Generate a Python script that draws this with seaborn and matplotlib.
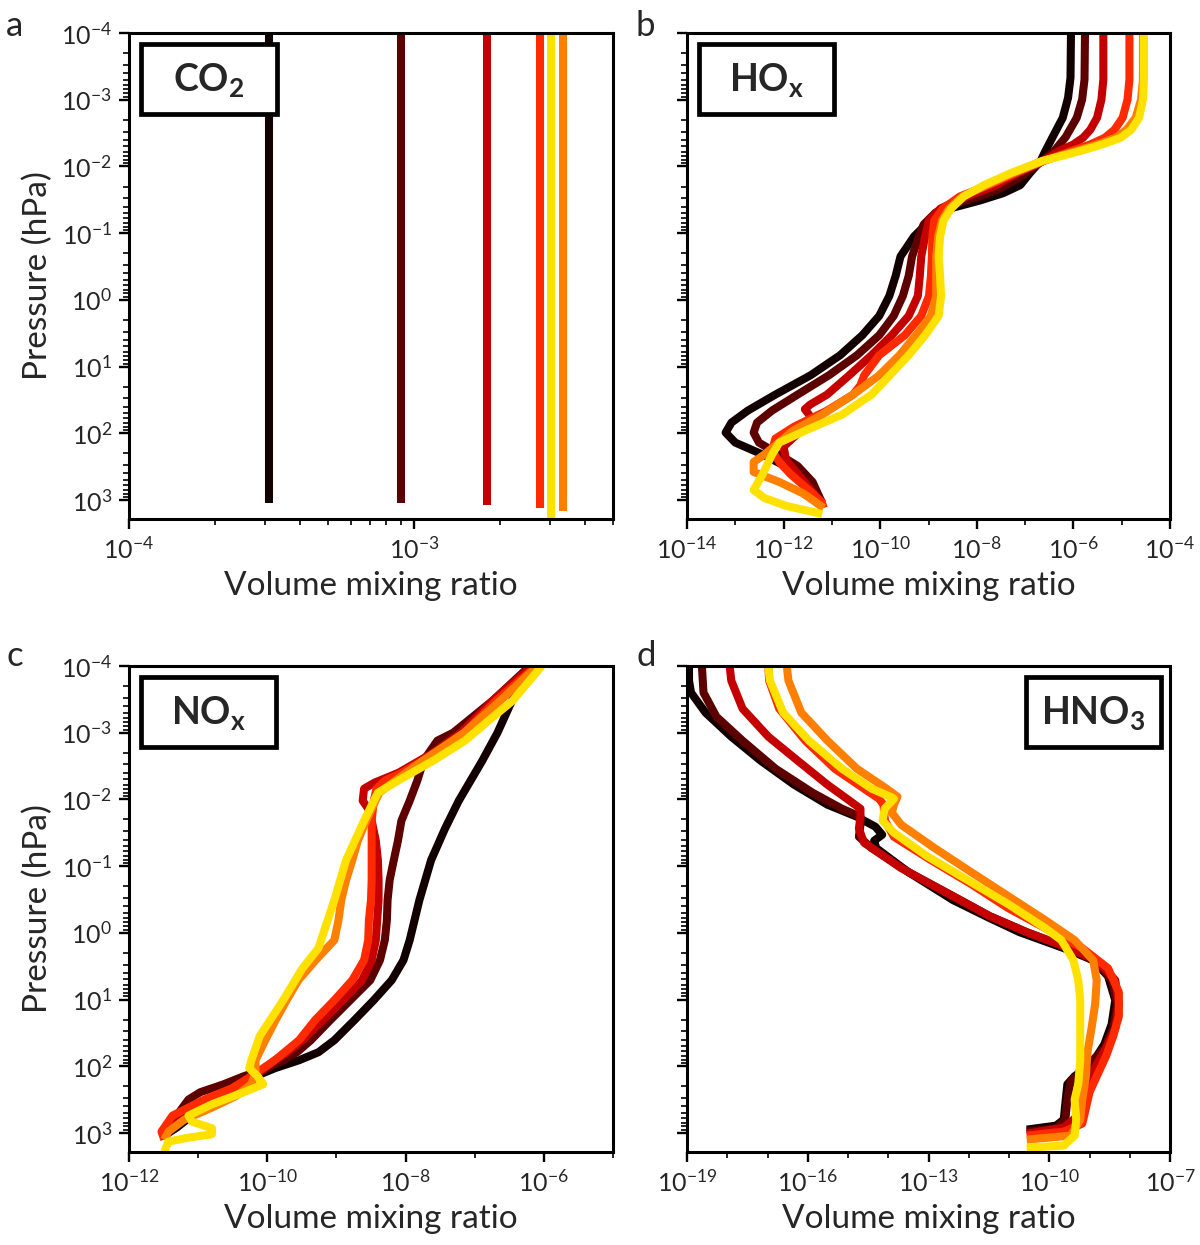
import numpy as np
import pandas as pd
import matplotlib
matplotlib.use("Agg")
import matplotlib.pyplot as plt
from matplotlib.ticker import FixedLocator, NullFormatter
from matplotlib.patches import Rectangle
import seaborn as sns

# ---------------- data (log10 values) ----------------
SCENARIOS = ["S1", "S2", "S3", "S4", "S5", "S6"]
COLORS = ["#120000", "#5c0000", "#c40000", "#ff2a00", "#ff8000", "#ffe100"]

# Panel a: CO2 (constant profiles), top pressure and surface pressure (hPa)
CO2_VMR = [3.1e-4, 9.0e-4, 1.8e-3, 2.78e-3, 3.33e-3, 3.03e-3]
CO2_P_TOP = [1e-4, 1e-4, 1e-4, 1e-4, 1e-4, 1e-4]
CO2_P_SURF = [1100, 1120, 1200, 1300, 1480, 2000]

# Panel b: HOx  (log10 pressure, log10 vmr)
HOX_S1_LOGP = [-4.0, -3.33, -3.03, -2.73, -2.44, -2.23, -2.08, -1.9, -1.72, -1.6, -1.49, -1.38, -1.25, -1.13, -0.95, -0.65, -0.36, -0.06, 0.24, 0.53, 0.83, 1.13, 1.42, 1.66, 1.84, 1.99, 2.14, 2.32, 2.49, 2.73, 2.97, 3.02]
HOX_S1_LOGX = [-6.05, -6.06, -6.11, -6.22, -6.43, -6.58, -6.68, -6.9, -7.1, -7.45, -7.93, -8.5, -8.85, -9.05, -9.3, -9.58, -9.68, -9.81, -10.02, -10.37, -10.83, -11.44, -12.17, -12.74, -13.08, -13.2, -13.0, -12.43, -11.97, -11.63, -11.32, -11.28]
HOX_S2_LOGP = [-4.0, -3.3, -3.0, -2.73, -2.44, -2.23, -2.08, -1.84, -1.66, -1.55, -1.43, -1.31, -1.13, -0.95, -0.65, -0.36, -0.06, 0.24, 0.53, 0.83, 1.13, 1.42, 1.66, 1.84, 1.99, 2.14, 2.32, 2.49, 2.73, 2.97, 3.04]
HOX_S2_LOGX = [-5.76, -5.77, -5.82, -5.93, -6.16, -6.4, -6.65, -7.1, -7.55, -7.95, -8.5, -8.85, -9.1, -9.2, -9.34, -9.41, -9.53, -9.72, -10.02, -10.48, -11.06, -11.71, -12.24, -12.55, -12.62, -12.51, -12.09, -11.71, -11.4, -11.25, -11.2]
HOX_S3_LOGP = [-4.0, -3.3, -3.0, -2.73, -2.55, -2.43, -2.33, -2.23, -2.08, -1.9, -1.72, -1.55, -1.37, -1.19, -0.95, -0.65, -0.36, -0.06, 0.24, 0.53, 0.83, 1.13, 1.42, 1.57, 1.64, 1.79, 2.0, 2.2, 2.4, 2.7, 2.97, 3.06]
HOX_S3_LOGX = [-5.38, -5.38, -5.42, -5.51, -5.65, -5.8, -6.0, -6.3, -6.63, -7.15, -7.6, -8.2, -8.75, -8.99, -9.07, -9.15, -9.18, -9.22, -9.41, -9.76, -10.18, -10.64, -11.1, -11.45, -11.56, -11.4, -11.7, -12.0, -11.95, -11.6, -11.3, -11.2]
HOX_S4_LOGP = [-4.0, -3.3, -3.0, -2.73, -2.55, -2.43, -2.33, -2.23, -2.08, -1.9, -1.72, -1.55, -1.37, -1.19, -0.95, -0.65, -0.36, -0.06, 0.24, 0.53, 0.83, 1.13, 1.28, 1.42, 1.66, 1.9, 2.08, 2.26, 2.43, 2.61, 2.85, 3.03, 3.12]
HOX_S4_LOGX = [-4.84, -4.84, -4.88, -4.98, -5.15, -5.35, -5.65, -6.05, -6.62, -7.2, -7.75, -8.35, -8.7, -8.88, -8.92, -8.93, -8.95, -8.99, -9.15, -9.49, -10.02, -10.33, -10.41, -10.56, -11.1, -11.78, -12.17, -12.24, -12.09, -11.86, -11.48, -11.21, -11.17]
HOX_S5_LOGP = [-4.0, -3.3, -3.0, -2.73, -2.55, -2.43, -2.33, -2.23, -2.08, -1.9, -1.72, -1.55, -1.37, -1.19, -0.95, -0.65, -0.36, -0.06, 0.24, 0.53, 0.83, 1.13, 1.42, 1.72, 1.96, 2.2, 2.32, 2.43, 2.58, 2.73, 2.9, 3.0, 3.12]
HOX_S5_LOGX = [-4.56, -4.56, -4.6, -4.71, -4.9, -5.12, -5.5, -5.95, -6.65, -7.25, -7.8, -8.3, -8.57, -8.72, -8.8, -8.84, -8.84, -8.84, -8.95, -9.26, -9.6, -10.02, -10.56, -11.2, -11.8, -12.2, -12.4, -12.62, -12.62, -12.09, -11.6, -11.4, -11.17]
HOX_S6_LOGP = [-4.0, -3.3, -3.0, -2.73, -2.55, -2.43, -2.33, -2.23, -2.08, -1.9, -1.72, -1.55, -1.37, -1.19, -0.95, -0.65, -0.36, -0.06, 0.24, 0.53, 0.83, 1.13, 1.42, 1.72, 1.96, 2.14, 2.32, 2.61, 2.85, 2.97, 3.09, 3.21]
HOX_S6_LOGX = [-4.54, -4.54, -4.56, -4.64, -4.8, -5.02, -5.4, -5.86, -6.65, -7.3, -7.85, -8.27, -8.53, -8.69, -8.76, -8.79, -8.76, -8.74, -8.79, -9.07, -9.41, -9.8, -10.18, -10.79, -11.55, -12.09, -12.24, -12.43, -12.62, -12.4, -11.94, -11.2]

# Panel c: NOx
NOX_S1_LOGP = [-4.0, -3.48, -3.0, -2.58, -2.28, -1.98, -1.56, -1.09, -0.49, 0.11, 0.41, 0.71, 1.01, 1.31, 1.61, 1.79, 1.91, 2.03, 2.15, 2.33, 2.5, 2.74, 2.92, 3.04]
NOX_S1_LOGX = [-6.2, -6.46, -6.67, -6.89, -7.06, -7.23, -7.43, -7.63, -7.8, -7.94, -8.03, -8.2, -8.46, -8.74, -9.03, -9.26, -9.54, -9.89, -10.17, -10.51, -10.8, -11.09, -11.31, -11.49]
NOX_S2_LOGP = [-4.0, -3.48, -3.0, -2.88, -2.58, -2.28, -1.98, -1.68, -1.38, -1.09, -0.79, -0.49, -0.19, 0.11, 0.41, 0.71, 1.01, 1.31, 1.61, 1.79, 1.91, 2.03, 2.15, 2.27, 2.39, 2.5, 2.74, 2.98]
NOX_S2_LOGX = [-6.2, -6.74, -7.31, -7.54, -7.74, -7.83, -7.94, -8.06, -8.11, -8.17, -8.23, -8.26, -8.27, -8.3, -8.37, -8.51, -8.8, -9.09, -9.37, -9.57, -9.77, -10.0, -10.34, -10.63, -10.97, -11.14, -11.31, -11.49]
NOX_S3_LOGP = [-4.0, -3.48, -3.0, -2.7, -2.4, -2.25, -2.16, -1.98, -1.86, -1.68, -1.38, -1.09, -0.79, -0.49, -0.19, 0.11, 0.41, 0.71, 1.01, 1.31, 1.61, 1.79, 1.91, 2.09, 2.27, 2.5, 2.74, 2.98]
NOX_S3_LOGX = [-6.17, -6.74, -7.2, -7.6, -8.1, -8.45, -8.6, -8.62, -8.54, -8.49, -8.43, -8.4, -8.39, -8.39, -8.41, -8.43, -8.49, -8.63, -8.91, -9.2, -9.49, -9.71, -9.89, -10.11, -10.4, -10.8, -11.2, -11.49]
NOX_S4_LOGP = [-4.0, -3.48, -3.0, -2.7, -2.4, -2.28, -2.16, -1.98, -1.68, -1.38, -1.09, -0.79, -0.49, -0.19, 0.11, 0.41, 0.71, 1.01, 1.31, 1.61, 1.91, 2.15, 2.33, 2.5, 2.74, 2.98, 3.1]
NOX_S4_LOGX = [-6.11, -6.69, -7.15, -7.55, -8.05, -8.3, -8.42, -8.46, -8.49, -8.49, -8.49, -8.49, -8.5, -8.53, -8.54, -8.6, -8.77, -9.03, -9.31, -9.54, -9.89, -10.23, -10.51, -10.91, -11.37, -11.53, -11.49]
NOX_S5_LOGP = [-4.0, -3.48, -3.0, -2.58, -2.28, -2.1, -1.68, -1.38, -1.09, -0.79, -0.49, -0.19, 0.11, 0.41, 0.71, 1.01, 1.31, 1.61, 1.91, 2.09, 2.27, 2.45, 2.62, 2.8, 2.98, 3.1]
NOX_S5_LOGX = [-6.09, -6.63, -7.15, -7.75, -8.15, -8.38, -8.57, -8.69, -8.77, -8.86, -8.93, -8.97, -9.03, -9.3, -9.55, -9.72, -9.88, -10.03, -10.17, -10.17, -10.23, -10.46, -10.8, -11.2, -11.43, -11.49]
NOX_S6_LOGP = [-4.0, -3.48, -3.18, -2.88, -2.58, -2.28, -2.1, -1.68, -1.09, -0.49, 0.23, 0.53, 1.01, 1.55, 1.91, 2.03, 2.15, 2.27, 2.39, 2.57, 2.74, 2.83, 2.93, 3.02, 3.07, 3.13, 3.28]
NOX_S6_LOGX = [-6.03, -6.45, -6.8, -7.14, -7.6, -8.11, -8.4, -8.6, -8.86, -9.03, -9.26, -9.49, -9.77, -10.11, -10.23, -10.26, -10.14, -10.06, -10.34, -10.8, -11.14, -11.09, -10.8, -10.8, -11.14, -11.43, -11.49]

# Panel d: HNO3
HNO3_S1_LOGP = [-4.0, -3.78, -3.6, -3.3, -2.94, -2.58, -2.22, -1.92, -1.74, -1.59, -1.47, -1.38, -1.27, -0.91, -0.49, -0.22, -0.01, 0.23, 0.41, 0.65, 1.01, 1.37, 1.67, 1.85, 2.03, 2.15, 2.27, 2.5, 2.8, 2.89, 2.95]
HNO3_S1_LOGX = [-18.95, -18.95, -18.9, -18.54, -17.9, -17.17, -16.34, -15.51, -14.78, -14.32, -14.15, -14.35, -14.3, -13.5, -12.39, -11.48, -10.74, -9.64, -8.91, -8.54, -8.36, -8.45, -8.63, -8.82, -9.09, -9.37, -9.55, -9.59, -9.64, -9.83, -10.56]
HNO3_S2_LOGP = [-4.0, -3.6, -3.24, -2.88, -2.46, -2.1, -1.86, -1.74, -1.62, -1.44, -1.27, -0.91, -0.55, -0.25, -0.01, 0.2, 0.44, 0.71, 1.07, 1.43, 1.73, 1.91, 2.09, 2.21, 2.5, 2.8, 2.93, 2.98]
HNO3_S2_LOGX = [-18.63, -18.59, -18.27, -17.62, -16.8, -15.88, -15.15, -14.69, -14.69, -14.73, -14.41, -13.5, -12.39, -11.48, -10.56, -9.64, -8.82, -8.45, -8.31, -8.41, -8.63, -8.91, -9.18, -9.46, -9.55, -9.6, -9.83, -10.56]
HNO3_S3_LOGP = [-4.0, -3.78, -3.36, -2.94, -2.58, -2.22, -1.98, -1.86, -1.74, -1.56, -1.35, -0.97, -0.61, -0.25, -0.01, 0.2, 0.41, 0.71, 1.07, 1.43, 1.73, 1.97, 2.27, 2.5, 2.74, 2.92, 3.01]
HNO3_S3_LOGX = [-17.94, -17.9, -17.62, -16.98, -16.25, -15.51, -14.96, -14.69, -14.69, -14.73, -14.6, -13.68, -12.58, -11.48, -10.56, -9.64, -8.82, -8.36, -8.27, -8.36, -8.59, -8.82, -9.09, -9.18, -9.28, -9.64, -10.56]
HNO3_S4_LOGP = [-4.0, -3.78, -3.36, -2.88, -2.46, -2.16, -2.01, -1.92, -1.68, -1.44, -1.09, -0.73, -0.37, -0.07, 0.23, 0.53, 0.89, 1.25, 1.55, 1.85, 2.15, 2.39, 2.63, 2.86, 2.98, 3.04]
HNO3_S4_LOGX = [-16.98, -16.96, -16.71, -16.06, -15.33, -14.6, -14.23, -14.12, -14.08, -13.86, -12.94, -11.94, -11.02, -10.1, -9.18, -8.54, -8.27, -8.27, -8.41, -8.59, -8.82, -9.0, -9.09, -9.18, -9.64, -10.56]
HNO3_S5_LOGP = [-4.0, -3.78, -3.3, -2.88, -2.46, -2.16, -2.04, -1.92, -1.8, -1.62, -1.27, -0.91, -0.55, -0.19, 0.11, 0.41, 0.71, 1.07, 1.43, 1.79, 2.15, 2.5, 2.8, 3.04, 3.1]
HNO3_S5_LOGX = [-16.52, -16.48, -16.16, -15.51, -14.78, -14.04, -13.77, -13.86, -13.91, -13.68, -12.85, -11.94, -11.02, -10.1, -9.37, -8.91, -8.82, -8.86, -8.95, -9.05, -9.09, -9.18, -9.23, -9.46, -10.56]
HNO3_S6_LOGP = [-4.0, -3.78, -3.3, -2.88, -2.46, -2.16, -2.04, -2.01, -1.86, -1.68, -1.5, -1.15, -0.79, -0.43, -0.07, 0.11, 0.41, 0.71, 1.01, 1.43, 1.91, 2.27, 2.5, 2.8, 3.04, 3.19, 3.22]
HNO3_S6_LOGX = [-16.98, -16.94, -16.61, -15.97, -15.15, -14.41, -13.95, -13.86, -14.09, -14.14, -13.86, -13.04, -12.03, -11.02, -10.1, -9.7, -9.4, -9.28, -9.23, -9.23, -9.23, -9.28, -9.37, -9.33, -9.37, -9.64, -10.56]

SPECIES_LABELS = [r"$\mathbf{CO_2}$", r"$\mathbf{HO_x}$", r"$\mathbf{NO_x}$", r"$\mathbf{HNO_3}$"]
PANEL_LETTERS = ["a", "b", "c", "d"]
XLIMS = [(1e-4, 5e-3), (1e-14, 1e-4), (1e-12, 1e-5), (1e-19, 1e-7)]
YLIM = (1930, 1e-4)
Y_DECADES = list(range(-4, 4))

# ---------------- style ----------------
sns.set_style("ticks")
plt.rcParams["font.family"] = ["Lato", "DejaVu Sans"]
plt.rcParams["mathtext.fontset"] = "custom"
plt.rcParams["mathtext.rm"] = "Lato"
plt.rcParams["mathtext.bf"] = "Lato:bold"
plt.rcParams["mathtext.it"] = "Lato:italic"
plt.rcParams["axes.linewidth"] = 2.2


def profile_frame(logps, logxs):
    rows = []
    for name, lp, lx in zip(SCENARIOS, logps, logxs):
        for p, x in zip(lp, lx):
            rows.append({"scenario": name, "pressure": 10.0 ** p, "vmr": 10.0 ** x})
    return pd.DataFrame(rows)


co2_rows = []
for name, v, pt, ps in zip(SCENARIOS, CO2_VMR, CO2_P_TOP, CO2_P_SURF):
    co2_rows.append({"scenario": name, "pressure": pt, "vmr": v})
    co2_rows.append({"scenario": name, "pressure": ps, "vmr": v})
df_co2 = pd.DataFrame(co2_rows)

df_hox = profile_frame(
    [HOX_S1_LOGP, HOX_S2_LOGP, HOX_S3_LOGP, HOX_S4_LOGP, HOX_S5_LOGP, HOX_S6_LOGP],
    [HOX_S1_LOGX, HOX_S2_LOGX, HOX_S3_LOGX, HOX_S4_LOGX, HOX_S5_LOGX, HOX_S6_LOGX])
df_nox = profile_frame(
    [NOX_S1_LOGP, NOX_S2_LOGP, NOX_S3_LOGP, NOX_S4_LOGP, NOX_S5_LOGP, NOX_S6_LOGP],
    [NOX_S1_LOGX, NOX_S2_LOGX, NOX_S3_LOGX, NOX_S4_LOGX, NOX_S5_LOGX, NOX_S6_LOGX])
df_hno3 = profile_frame(
    [HNO3_S1_LOGP, HNO3_S2_LOGP, HNO3_S3_LOGP, HNO3_S4_LOGP, HNO3_S5_LOGP, HNO3_S6_LOGP],
    [HNO3_S1_LOGX, HNO3_S2_LOGX, HNO3_S3_LOGX, HNO3_S4_LOGX, HNO3_S5_LOGX, HNO3_S6_LOGX])

frames = [df_co2, df_hox, df_nox, df_hno3]

fig = plt.figure(figsize=(12, 12.45), dpi=100)
positions = [
    [0.1075, 0.5831, 0.4033, 0.3904],
    [0.5725, 0.5831, 0.4025, 0.3904],
    [0.1075, 0.0747, 0.4033, 0.3904],
    [0.5725, 0.0747, 0.4025, 0.3904],
]
box_x = [0.025, 0.024, 0.024, 0.701]
letter_pos = [(0.005, 0.971), (0.53, 0.971), (0.005, 0.465), (0.53, 0.465)]

# tick positions within the view limits
y_major = [10.0 ** k for k in Y_DECADES]
y_minor = [m * 10.0 ** k for k in Y_DECADES for m in range(2, 10) if m * 10.0 ** k <= YLIM[0]]
x_major_list = [
    [1e-4, 1e-3],
    [10.0 ** k for k in range(-14, -3, 2)],
    [10.0 ** k for k in range(-12, -5, 2)],
    [10.0 ** k for k in range(-19, -6, 3)],
]
x_minor_list = [
    [m * 10.0 ** k for k in (-4, -3) for m in range(2, 10) if m * 10.0 ** k <= 5e-3],
    [10.0 ** k for k in range(-13, -4, 2)],
    [10.0 ** k for k in range(-11, -4, 2)],
    [10.0 ** k for k in range(-19, -6) if (k + 19) % 3 != 0],
]

for i, ax_pos in enumerate(positions):
    ax = fig.add_axes(ax_pos)
    ax.set_xscale("log")
    ax.set_yscale("log")
    sns.lineplot(data=frames[i], x="vmr", y="pressure", hue="scenario",
                 hue_order=SCENARIOS, palette=COLORS, sort=False,
                 estimator=None, legend=False, lw=5.8, ax=ax,
                 solid_capstyle="butt", solid_joinstyle="round")
    ax.set_xlim(*XLIMS[i])
    ax.set_ylim(*YLIM)

    ax.yaxis.set_major_locator(FixedLocator(y_major))
    ax.yaxis.set_minor_locator(FixedLocator(y_minor))
    ax.yaxis.set_minor_formatter(NullFormatter())
    ax.xaxis.set_major_locator(FixedLocator(x_major_list[i]))
    ax.xaxis.set_minor_locator(FixedLocator(x_minor_list[i]))
    ax.xaxis.set_minor_formatter(NullFormatter())

    ax.tick_params(axis="both", which="major", direction="out", length=7.2,
                   width=1.7, labelsize=18, pad=5, color="black")
    ax.tick_params(axis="both", which="minor", direction="out", length=4,
                   width=1.2, color="black")
    ax.tick_params(top=False, right=False)
    for s in ax.spines.values():
        s.set_linewidth(2.2)
        s.set_color("black")

    ax.set_xlabel("Volume mixing ratio", fontsize=24, labelpad=6)
    if i in (0, 2):
        ax.set_ylabel("Pressure (hPa)", fontsize=24, labelpad=6)
    else:
        ax.set_ylabel("")
        ax.tick_params(axis="y", labelleft=False)

    # species box
    bx = box_x[i]
    ax.add_patch(Rectangle((bx, 0.834), 0.28, 0.144, transform=ax.transAxes,
                           facecolor="white", edgecolor="black", lw=3.4,
                           zorder=5))
    ax.text(bx + 0.14, 0.904, SPECIES_LABELS[i], transform=ax.transAxes,
            ha="center", va="center", fontsize=27, zorder=6)

    lx, ly = letter_pos[i]
    fig.text(lx, ly, PANEL_LETTERS[i], fontsize=25, ha="left", va="baseline")

fig.savefig("out.png", dpi=100)
